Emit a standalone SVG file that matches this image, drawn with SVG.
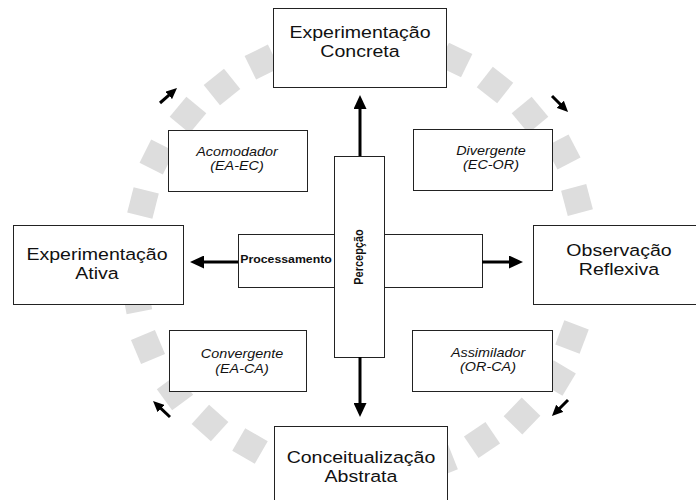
<svg xmlns="http://www.w3.org/2000/svg" xmlns:xlink="http://www.w3.org/1999/xlink" width="696" height="500" viewBox="0 0 696 500">
  <style>
    .box { fill: #fff; stroke: #222; stroke-width: 1; }
    .big { font-family: "Liberation Sans", Arial, sans-serif; font-size: 17px; fill: #111; text-anchor: middle;
           transform-box: fill-box; transform-origin: center; transform: scaleX(1.15); }
    .style { font-family: "Liberation Sans", Arial, sans-serif; font-size: 12.5px; font-style: italic; fill: #111; text-anchor: middle;
             transform-box: fill-box; transform-origin: center; transform: scaleX(1.15); }
    .axis { font-family: "Liberation Sans", Arial, sans-serif; font-size: 11px; font-weight: bold; fill: #111; text-anchor: middle; }
    .flow { stroke: #000; stroke-width: 3; fill: none; }
    .turn { stroke: #000; stroke-width: 3; fill: none; }
    .ring { fill: #dddddd; }
  </style>
  <defs>
    <rect id="tile" x="-13" y="-13" width="26" height="26"/>
    <marker id="head" markerUnits="userSpaceOnUse" markerWidth="14" markerHeight="13" refX="2" refY="6.5" orient="auto">
      <path d="M0,0 L14,6.5 L0,13 z" fill="#000"/>
    </marker>
    <marker id="head-sm" markerUnits="userSpaceOnUse" markerWidth="11" markerHeight="10" refX="1" refY="5" orient="auto">
      <path d="M0,0 L11,5 L0,10 z" fill="#000"/>
    </marker>
  </defs>

  <rect width="696" height="500" fill="#fff"/>

  <!-- dashed learning cycle ring: tiles set tangent to the loop -->
  <g id="cycle-ring" class="ring">
    <use xlink:href="#tile" transform="translate(262 62) rotate(-116.3)"/>
    <use xlink:href="#tile" transform="translate(222 87) rotate(-128.7)"/>
    <use xlink:href="#tile" transform="translate(188 115) rotate(-140.1)"/>
    <use xlink:href="#tile" transform="translate(157 157) rotate(-153.4)"/>
    <use xlink:href="#tile" transform="translate(143 203) rotate(-165.7)"/>
    <use xlink:href="#tile" transform="translate(137 299) rotate(169.3)"/>
    <use xlink:href="#tile" transform="translate(148 347) rotate(157.1)"/>
    <use xlink:href="#tile" transform="translate(175 392) rotate(143.9)"/>
    <use xlink:href="#tile" transform="translate(210 423) rotate(132.1)"/>
    <use xlink:href="#tile" transform="translate(250 446) rotate(120)"/>
    <use xlink:href="#tile" transform="translate(441 462) rotate(68.3)"/>
    <use xlink:href="#tile" transform="translate(482 440) rotate(55.9)"/>
    <use xlink:href="#tile" transform="translate(522 416) rotate(44.1)"/>
    <use xlink:href="#tile" transform="translate(558 378) rotate(31)"/>
    <use xlink:href="#tile" transform="translate(572 337) rotate(20.5)"/>
    <use xlink:href="#tile" transform="translate(577 200) rotate(-14.9)"/>
    <use xlink:href="#tile" transform="translate(563 152) rotate(-27.5)"/>
    <use xlink:href="#tile" transform="translate(530 115) rotate(-39.9)"/>
    <use xlink:href="#tile" transform="translate(495 85) rotate(-51.8)"/>
    <use xlink:href="#tile" transform="translate(455 60) rotate(-64.1)"/>
  </g>

  <!-- cycle direction arrows -->
  <g id="cycle-arrows">
    <line class="turn" x1="160" y1="103" x2="169.5" y2="94.7" marker-end="url(#head-sm)"/>
    <line class="turn" x1="552" y1="96" x2="561" y2="105" marker-end="url(#head-sm)"/>
    <line class="turn" x1="568" y1="400" x2="559" y2="409" marker-end="url(#head-sm)"/>
    <line class="turn" x1="170" y1="417" x2="160.3" y2="407.9" marker-end="url(#head-sm)"/>
  </g>

  <!-- four poles -->
  <g id="experimentacao-concreta">
    <rect class="box" x="273.5" y="8.5" width="173" height="79"/>
    <text class="big" x="360" y="38">Experimentação</text>
    <text class="big" x="360" y="57">Concreta</text>
  </g>
  <g id="experimentacao-ativa">
    <rect class="box" x="13.5" y="225.5" width="170" height="79"/>
    <text class="big" x="97" y="260">Experimentação</text>
    <text class="big" x="97" y="279">Ativa</text>
  </g>
  <g id="observacao-reflexiva">
    <rect class="box" x="533.5" y="225.5" width="170" height="79"/>
    <text class="big" x="619" y="256">Observação</text>
    <text class="big" x="619" y="275">Reflexiva</text>
  </g>
  <g id="conceitualizacao-abstrata">
    <rect class="box" x="274.5" y="426.5" width="173" height="80"/>
    <text class="big" x="361" y="463">Conceitualização</text>
    <text class="big" x="361" y="482">Abstrata</text>
  </g>

  <!-- learning styles -->
  <g id="acomodador">
    <rect class="box" x="168.5" y="130.5" width="139" height="61"/>
    <text class="style" x="237" y="156">Acomodador</text>
    <text class="style" x="237" y="170">(EA-EC)</text>
  </g>
  <g id="divergente">
    <rect class="box" x="413.5" y="129.5" width="139" height="61"/>
    <text class="style" x="491" y="155">Divergente</text>
    <text class="style" x="491" y="169">(EC-OR)</text>
  </g>
  <g id="convergente">
    <rect class="box" x="169.5" y="330.5" width="137" height="61"/>
    <text class="style" x="242" y="358">Convergente</text>
    <text class="style" x="242" y="373">(EA-CA)</text>
  </g>
  <g id="assimilador">
    <rect class="box" x="412.5" y="330.5" width="140" height="61"/>
    <text class="style" x="488" y="357">Assimilador</text>
    <text class="style" x="488" y="371">(OR-CA)</text>
  </g>

  <!-- axes -->
  <g id="processamento">
    <rect class="box" x="238.5" y="234.5" width="244" height="53"/>
    <text class="axis" x="0" y="0" transform="translate(286 263) scale(1.12 1)">Processamento</text>
  </g>
  <g id="percepcao">
    <rect class="box" x="334.5" y="156.5" width="50" height="201" stroke="#000"/>
    <text class="axis" x="0" y="0" font-size="12" transform="translate(363 257) scale(1.15 1) rotate(-90)">Percepção</text>
  </g>

  <!-- axis connectors -->
  <g id="connectors">
    <line class="flow" x1="360" y1="156" x2="360" y2="107" marker-end="url(#head)"/>
    <line class="flow" x1="360" y1="357" x2="360" y2="405" marker-end="url(#head)"/>
    <line class="flow" x1="238" y1="262" x2="202" y2="262" marker-end="url(#head)"/>
    <line class="flow" x1="482" y1="262" x2="511" y2="262" marker-end="url(#head)"/>
  </g>
</svg>
